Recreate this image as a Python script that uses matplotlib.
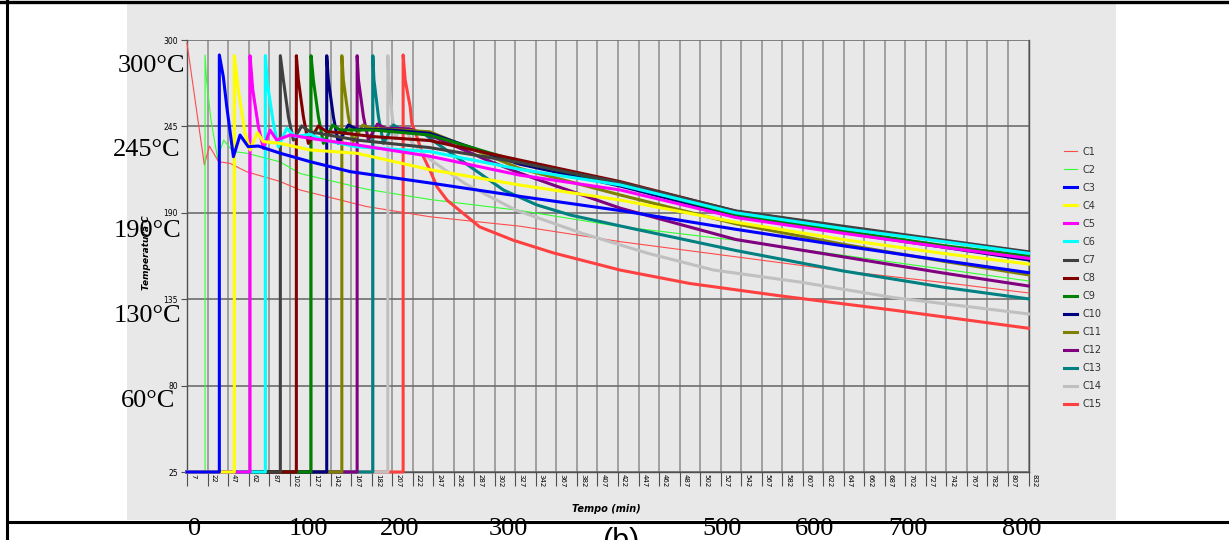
import numpy as np
import matplotlib
matplotlib.use("Agg")
import matplotlib.pyplot as plt
from matplotlib.lines import Line2D
from matplotlib.patches import Rectangle
import matplotlib.transforms as mtransforms

W, H = 1229, 540

# curves: time (min) / temperature (C)
c1_t = [7, 24, 29, 38, 49, 66, 98, 118, 183, 245, 333, 432, 545, 650, 750, 832]
c1_v = [298, 220.5, 232.5, 222.5, 221.5, 216, 210, 204.5, 194, 187.5, 181.5, 171.6, 162, 153, 145.5, 139]
c2_t = [7, 24.7, 24.7, 26, 30.5, 37, 43, 52, 65, 98, 118, 183, 245, 333, 432, 545, 650, 750, 832]
c2_v = [25, 25, 290.5, 275.5, 249, 224.7, 236.3, 229, 228, 222.5, 215, 205, 198.5, 191.5, 181.2, 172.5, 163, 154, 146.6]
c3_t = [7, 38.7, 38.7, 42.6, 46, 52.5, 59, 67, 77, 98, 128, 167, 245, 333, 432, 545, 650, 750, 832]
c3_v = [25, 25, 290.5, 276.6, 257.5, 225.7, 239.5, 232.1, 232.5, 228, 222.5, 216.2, 209, 200.5, 191.4, 179.5, 169, 159.5, 151.9]
c4_t = [7, 53.4, 53.4, 57.3, 63.9, 68.8, 76, 81.9, 98.2, 127.7, 173.5, 245, 333, 432, 545, 650, 750, 832]
c4_v = [25, 25, 290, 268.2, 240.6, 230, 241, 235.3, 234.2, 230, 227.9, 217.5, 207.7, 198.1, 184, 173, 164, 157.4]
c5_t = [7, 68.8, 68.8, 71.5, 77, 81.9, 88.4, 95, 108, 127.7, 173.5, 245, 333, 432, 545, 650, 750, 832]
c5_v = [25, 25, 290, 268.2, 244.8, 231, 242.7, 236.3, 239.5, 237.4, 233.2, 226, 214, 204.5, 187, 177, 168, 161]
c6_t = [7, 83.8, 83.8, 85.8, 91.7, 96.6, 104.8, 113, 127.7, 140.7, 173.5, 245, 333, 432, 545, 650, 750, 832]
c6_v = [25, 25, 290, 272.4, 247, 232, 243.8, 238.5, 240, 236.3, 232, 229, 217.7, 207.7, 190, 180, 171.5, 164.2]
c7_t = [7, 98.5, 98.5, 101.5, 106.4, 111.3, 119.5, 127.7, 173.5, 245, 333, 432, 545, 650, 750, 832]
c7_v = [25, 25, 290, 274.5, 251.2, 236.3, 245.3, 241.6, 236.3, 231.5, 222, 209.2, 191.2, 181.5, 172.5, 165.2]
c8_t = [7, 114.2, 114.2, 116.2, 121.1, 126, 135.8, 144, 157.1, 189.8, 245, 333, 432, 545, 650, 750, 832]
c8_v = [25, 25, 290, 274.5, 251.2, 234.2, 245.3, 241.6, 241, 238.5, 236, 223.6, 209.8, 191, 181, 172, 164.5]
c9_t = [7, 128.6, 128.6, 130.9, 135.8, 140.7, 149.9, 157.1, 189.8, 245, 333, 432, 545, 650, 750, 832]
c9_v = [25, 25, 290, 274.5, 251.2, 234.2, 245.9, 242.7, 242.7, 239.5, 222.5, 208.5, 189, 178.5, 169, 162.5]
c10_t = [7, 144, 144, 145.6, 150.5, 155.4, 165.2, 173.5, 206.1, 245, 333, 432, 545, 650, 750, 832]
c10_v = [25, 25, 290, 274.5, 251.2, 234.2, 245.9, 243.2, 242.7, 240.6, 221, 207, 188, 177.5, 168, 160]
c11_t = [7, 158.8, 158.8, 160.3, 165.2, 170.1, 179.4, 186.5, 245, 333, 432, 545, 650, 750, 832]
c11_v = [25, 25, 290, 274.5, 251.2, 235.3, 245.9, 243.8, 241.6, 218.3, 201.3, 183, 170, 159, 150.5]
c12_t = [7, 173.8, 173.8, 175.1, 180, 184.9, 193.8, 201.2, 225, 252, 301, 334, 366, 399, 432, 545, 650, 750, 832]
c12_v = [25, 25, 290, 274.5, 251.2, 236.3, 246.5, 243.8, 243.5, 237.5, 223.6, 215.1, 207.7, 200.3, 192.9, 173, 162, 151.5, 143.4]
c13_t = [7, 189.2, 189.2, 190.3, 194.7, 199.6, 209.4, 217.6, 240, 252, 284.6, 317.3, 350, 382.7, 432, 545, 650, 750, 832]
c13_v = [25, 25, 290, 274.5, 251.2, 234.2, 245.9, 242.7, 240, 234.2, 219.4, 204.5, 195, 188.6, 181.6, 166, 153, 142.5, 135.2]
c14_t = [7, 203.9, 203.9, 205, 208.2, 211.4, 215.2, 222, 228, 246, 279, 329, 394, 459, 523, 608, 700, 832]
c14_v = [25, 25, 290, 274.5, 251.2, 237, 243.8, 242.7, 234, 223.6, 208.8, 191.8, 177, 164.2, 153.6, 145.9, 136, 125.6]
c15_t = [7, 218.9, 218.9, 220.9, 225.8, 227.4, 232.3, 238.8, 246, 252, 262, 294, 327, 366, 432, 500, 590, 700, 832]
c15_v = [25, 25, 290.5, 274.5, 257.5, 247, 238.5, 225.7, 216, 206.6, 198, 181, 172.5, 164.5, 153.5, 145, 137, 128, 116.5]

names = ["C%d" % i for i in range(1, 16)]
colors = ["#ff4c4c", "#33ff33", "#0000ff", "#ffff00", "#ff00ff", "#00ffff", "#404040",
          "#800000", "#008000", "#000080", "#808000", "#800080", "#008080", "#c0c0c0", "#ff4040"]
widths = [0.8, 0.8] + [2.2] * 13

xtick_labels = ["7", "22", "47", "62", "87", "102", "127", "142", "167", "182", "207", "222",
                "247", "262", "287", "302", "327", "342", "367", "382", "407", "422", "447", "462",
                "487", "502", "527", "542", "567", "582", "607", "622", "647", "662", "687", "702",
                "727", "742", "767", "782", "807", "832"]
yticks = [25, 80, 135, 190, 245, 300]

temp_marks = ["300°C", "245°C", "190°C", "130°C", "60°C"]
time_marks = ["0", "100", "200", "300", "500", "600", "700", "800"]

BG = "#e8e8e8"


def fx(x):
    return x / W


def fy(y):
    return 1 - y / H


times = [c1_t, c2_t, c3_t, c4_t, c5_t, c6_t, c7_t, c8_t, c9_t, c10_t, c11_t, c12_t, c13_t, c14_t, c15_t]
temps = [c1_v, c2_v, c3_v, c4_v, c5_v, c6_v, c7_v, c8_v, c9_v, c10_v, c11_v, c12_v, c13_v, c14_v, c15_v]

fig = plt.figure(figsize=(W / 100, H / 100), dpi=100)
fig.patches.append(Rectangle((fx(127), fy(520)), fx(1116) - fx(127), fy(4) - fy(520),
                             transform=fig.transFigure, facecolor=BG, edgecolor="none", zorder=-5))

ax = fig.add_axes([fx(187), fy(472), fx(1028.5) - fx(187), fy(40) - fy(472)])
ax.set_facecolor(BG)

# thin series underneath, then the thick ones with C3 ending on top
order = [0, 1] + list(range(14, 1, -1))
handles = {}
for i in order:
    ln, = ax.plot(times[i], temps[i], color=colors[i], lw=widths[i], label=names[i],
                  zorder=3, clip_on=False)
    handles[i] = ln

ax.set_xlim(7, 832)
ax.set_ylim(25, 300)
xt = np.linspace(7, 832, len(xtick_labels))
ax.set_xticks(xt)
ax.set_xticklabels([])
ax.set_yticks(yticks)
ax.set_yticklabels([str(v) for v in yticks], fontsize=5.5)
ax.grid(axis="x", color="#8c8c8c", lw=1.1)
ax.grid(axis="y", color="#6e6e6e", lw=1.2)
ax.set_axisbelow(True)
ax.spines["top"].set_visible(False)
for s in ["left", "right", "bottom"]:
    ax.spines[s].set_color("#505050")
    ax.spines[s].set_linewidth(1.0)
ax.tick_params(axis="x", length=10, width=0.8, color="#505050")
ax.tick_params(axis="y", length=4.5, width=0.8, color="#505050", pad=2)

off = mtransforms.ScaledTranslation(0.03, -0.025, fig.dpi_scale_trans)
for pos, lab in zip(xt, xtick_labels):
    ax.text(pos, 0, lab, transform=ax.get_xaxis_transform() + off, rotation=-90,
            ha="left", va="top", fontsize=5)

ax.set_xlabel("Tempo (min)", fontsize=7, weight="bold", style="italic")
ax.xaxis.set_label_coords((606 - 187) / 841.5, -(508.5 - 472) / 432)
ax.xaxis.label.set_va("center")
ax.set_ylabel("Temperatura C", fontsize=6.5, weight="bold", style="italic")
ax.yaxis.set_label_coords((146.5 - 187) / 841.5, (472 - 253) / 432)
ax.yaxis.label.set_va("center")

leg = fig.legend([handles[i] for i in range(15)], names, loc="upper left",
                 bbox_to_anchor=(fx(1064), fy(146.5)), frameon=False, fontsize=7,
                 handlelength=1.35, handletextpad=0.6, labelspacing=0.83,
                 borderpad=0, borderaxespad=0)
for t in leg.get_texts():
    t.set_color("#333333")

# frame of the scanned figure
fig.add_artist(Line2D([0, 1], [fy(1.7)] * 2, color="k", lw=2.4))
fig.add_artist(Line2D([fx(7)] * 2, [0, 1], color="k", lw=2.2))
fig.add_artist(Line2D([fx(7), 1], [fy(521.5)] * 2, color="k", lw=2.2))

# overlaid serif labels
for lab, xr, yb in zip(temp_marks, [185, 181, 181, 181, 175], [72, 156, 237, 322, 407]):
    fig.text(fx(xr), fy(yb), lab, ha="right", va="baseline", fontsize=19,
             family="Liberation Serif", zorder=10)
for lab, xc in zip(time_marks, [195, 308, 400, 508, 722, 815, 908, 1022]):
    fig.text(fx(xc), fy(535), lab, ha="center", va="baseline", fontsize=19,
             family="Liberation Serif", zorder=10)
fig.text(fx(621), fy(550), "(b)", ha="center", va="baseline", fontsize=22,
         family="Liberation Sans", zorder=10)

fig.savefig("out.png", dpi=100)
